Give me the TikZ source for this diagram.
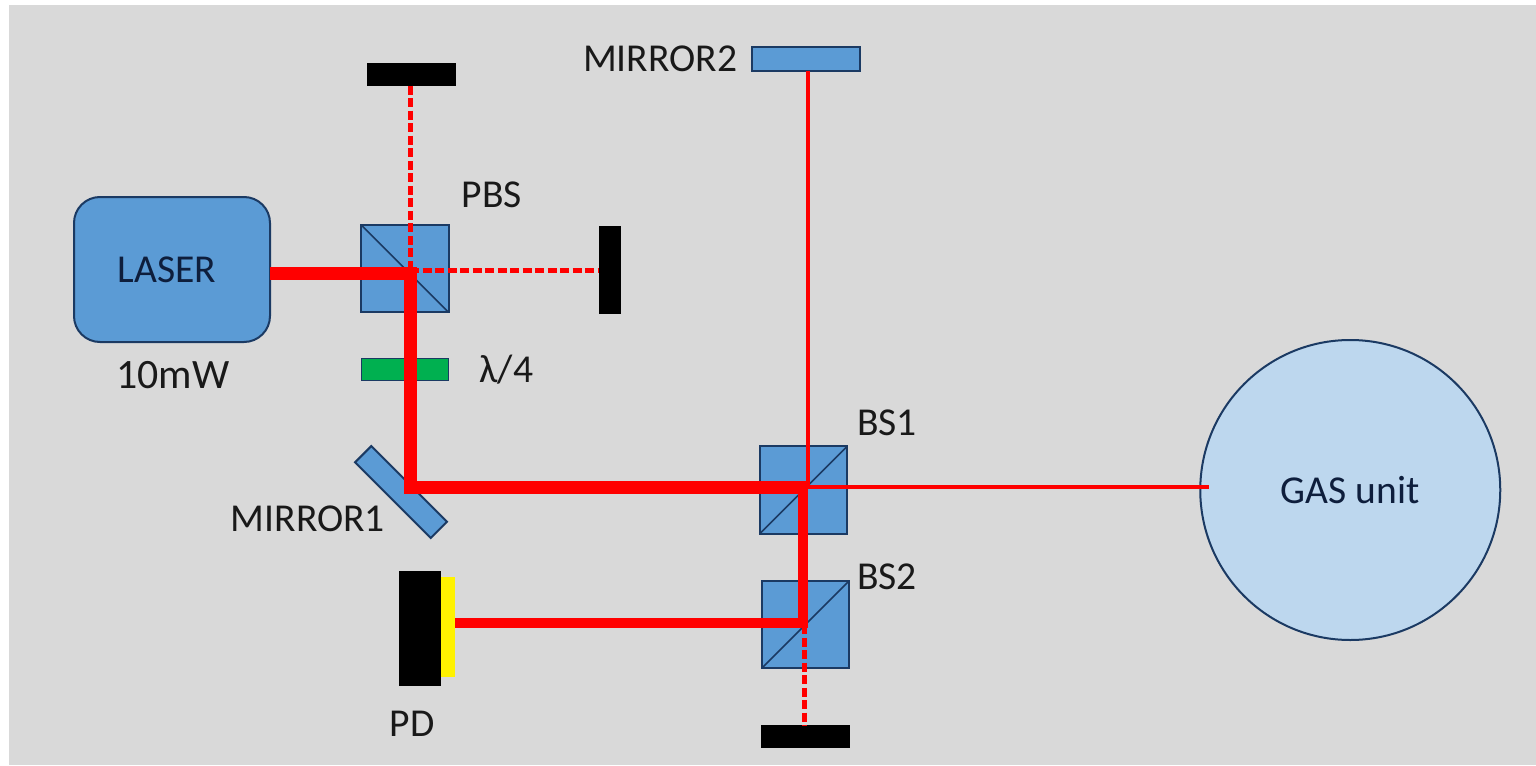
\documentclass[tikz,border=0pt]{standalone}
\usepackage{fontspec}
\setmainfont{Carlito}
\usepackage{tikz}
\usetikzlibrary{positioning}
\definecolor{panel}{HTML}{D9D9D9}
\definecolor{optic}{HTML}{5B9BD5}
\definecolor{gasblue}{HTML}{BDD7EE}
\definecolor{edgeblue}{HTML}{1B3A63}
\definecolor{inktext}{HTML}{0E1E3C}
\definecolor{waveplate}{HTML}{00B050}

\begin{document}
\begin{tikzpicture}[
  node distance=1cm and 1cm,
  every node/.style={outer sep=0,inner sep=0},
  lbl/.style={font=\fontsize{22.5}{27}\selectfont,text=black!90},
  cube/.style={draw=edgeblue,fill=optic,line width=.04cm,minimum width=1.75cm,minimum height=1.75cm},
  dump/.style={fill=black,minimum width=1.78cm,minimum height=.46cm},
  beamthick/.style={draw=red,line width=.26cm},
  beammid/.style={draw=red,line width=.2cm},
  beamthin/.style={draw=red,line width=.09cm},
  beamdash/.style={draw=red,line width=.1cm,dash pattern=on .18cm off .07cm}
]

  \path[use as bounding box,fill=white] (0,0) rectangle (30.72,-15.3);
  \fill[panel] (.18,-.1) rectangle (30.72,-15.3);

  \node[draw=edgeblue,fill=optic,line width=.04cm,rounded corners=.52cm,minimum width=3.92cm,minimum height=2.9cm,lbl,text=inktext] (laser) at (3.44,-5.39) {\hspace{-.2cm}\raisebox{-.06cm}{LASER}};
  \node[cube, right=1.82cm of laser, yshift=.02cm] (pbs) {};
  \node[fill=waveplate,draw=edgeblue,line width=.02cm,minimum width=1.75cm,minimum height=.44cm, below=.92cm of pbs] (qwp) {};
  \node[dump, above=2.78cm of pbs, xshift=.13cm] (dumptop) {};
  \node[fill=black,minimum width=.44cm,minimum height=1.76cm, right=3cm of pbs, yshift=-.03cm] (dumpright) {};
  \node[draw=edgeblue,fill=optic,line width=.04cm,minimum width=2.14cm,minimum height=.46cm,rotate=-45] (mirrorone) at (8.02,-9.84) {};

  \node[cube] (bsone) at (16.07,-9.8) {};
  \node[cube, below=.94cm of bsone, xshift=.04cm] (bstwo) {};
  \node[draw=edgeblue,fill=optic,line width=.04cm,minimum width=2.16cm,minimum height=.48cm, above=7.5cm of bsone, xshift=.05cm] (mirrortwo) {};
  \node[dump, below=1.14cm of bstwo] (dumpbottom) {};
  \node[draw=edgeblue,fill=gasblue,line width=.04cm,circle,minimum size=6cm,lbl,text=inktext, right=7.06cm of bsone] (gas) {GAS unit};
  \node[fill=yellow,minimum width=.28cm,minimum height=2cm, left=6.14cm of bstwo, yshift=-.04cm] (sensor) {};
  \node[fill=black,minimum width=.84cm,minimum height=2.3cm, left=0cm of sensor, yshift=-.03cm] (pdbody) {};

  \draw[edgeblue,line width=.03cm] (pbs.north west) -- (pbs.south east);
  \draw[edgeblue,line width=.03cm] (bsone.south west) -- (bsone.north east);
  \draw[edgeblue,line width=.03cm] (bstwo.south west) -- (bstwo.north east);

  \coordinate (pbshit) at (8.2,-5.46);
  \coordinate (mirrorhit) at (8.2,-9.74);
  \coordinate (bsupper) at (16.16,-9.74);
  \coordinate (bsonehit) at (16.06,-9.74);
  \coordinate (bstwohit) at (16.06,-12.46);
  \coordinate (dumphit) at (16.08,-12.5);
  \coordinate (gasin) at (24.18,-9.74);

  \path (pbshit |- dumptop.south) edge[beamdash] (pbshit |- dumpright)
        (pbshit |- dumpright) edge[beamdash] (dumpright.west)
        (dumphit) edge[beamdash] (dumphit |- dumpbottom.north)
  ;
  \draw[beamthin] (bsupper |- mirrortwo.south) -- (bsupper) -- (gasin);
  \draw[beammid] (sensor.east |- bstwohit) -- (bstwohit) -- (bsonehit);
  \draw[beamthick] (laser.east |- pbshit) -- (pbshit) -- (mirrorhit) -- (bsupper);

  \node[lbl, below=.38cm of laser, font=\fontsize{23.8}{28}\selectfont, xshift=.02cm] (power) {10mW};
  \node[lbl, above right=.34cm and 1.14cm of pbs.north] (pbslabel) {PBS};
  \node[lbl, right=.62cm of qwp] (qwplabel) {λ/4};
  \node[lbl, left=.3cm of mirrortwo] (mirrortwolabel) {MIRROR2};
  \node[lbl, anchor=east] (mirroronelabel) at (7.7,-10.38) {MIRROR1};
  \node[lbl, above right=.2cm and .2cm of bsone.north east, anchor=south west] (bsonelabel) {BS1};
  \node[lbl, anchor=west] (bstwolabel) at (17.14,-11.54) {BS2};
  \node[lbl] (pdlabel) at (8.24,-14.48) {PD};
\end{tikzpicture}
\end{document}
